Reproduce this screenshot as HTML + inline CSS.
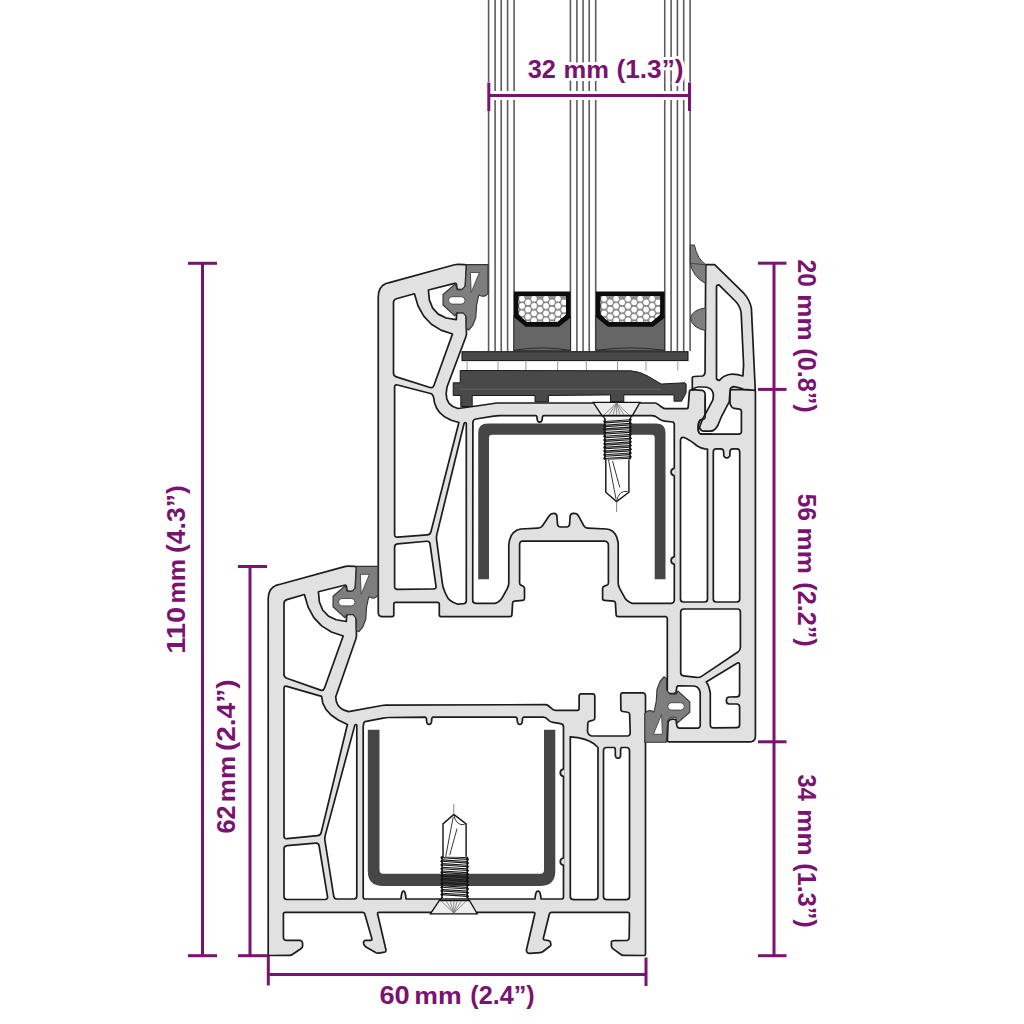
<!DOCTYPE html>
<html><head><meta charset="utf-8"><style>
html,body{margin:0;padding:0;background:#fff;width:1024px;height:1024px;overflow:hidden}
svg{display:block}
</style></head><body>
<svg width="1024" height="1024" viewBox="0 0 1024 1024">
<rect width="1024" height="1024" fill="#fff"/>
<g stroke="#5c5c5c" stroke-width="1.6">
<line x1="488.6" y1="0" x2="488.6" y2="351"/>
<line x1="495.1" y1="0" x2="495.1" y2="351"/>
<line x1="501.2" y1="0" x2="501.2" y2="351"/>
<line x1="507.6" y1="0" x2="507.6" y2="351"/>
<line x1="514.1" y1="0" x2="514.1" y2="351"/>
<line x1="570.4" y1="0" x2="570.4" y2="351"/>
<line x1="576.9" y1="0" x2="576.9" y2="351"/>
<line x1="583.05" y1="0" x2="583.05" y2="351"/>
<line x1="589.2" y1="0" x2="589.2" y2="351"/>
<line x1="595.7" y1="0" x2="595.7" y2="351"/>
<line x1="664.75" y1="0" x2="664.75" y2="351"/>
<line x1="671.1" y1="0" x2="671.1" y2="351"/>
<line x1="677.4" y1="0" x2="677.4" y2="351"/>
<line x1="683.7" y1="0" x2="683.7" y2="351"/>
<line x1="690.1" y1="0" x2="690.1" y2="351"/>
</g>
<g stroke="#fff" stroke-width="9" stroke-linecap="butt" opacity="1">
<line x1="489" y1="95.5" x2="689.5" y2="95.5"/>
<line x1="489" y1="82" x2="489" y2="111"/><line x1="689.5" y1="82" x2="689.5" y2="111"/>
</g>
<g stroke="#7a1270" stroke-width="3" stroke-linecap="butt">
<line x1="489" y1="95.5" x2="689.5" y2="95.5"/>
<line x1="488.8" y1="82.5" x2="488.8" y2="111"/><line x1="689.5" y1="82.5" x2="689.5" y2="111"/>
<line x1="202.5" y1="263.3" x2="202.5" y2="955.7"/>
<line x1="188" y1="263.3" x2="217" y2="263.3"/><line x1="188" y1="955.7" x2="217" y2="955.7"/>
<line x1="250" y1="566.5" x2="250" y2="955.7"/>
<line x1="238" y1="566.5" x2="267" y2="566.5"/><line x1="238" y1="955.7" x2="268" y2="955.7"/>
<line x1="268.3" y1="974.6" x2="646" y2="974.6"/>
<line x1="268.3" y1="955.7" x2="268.3" y2="985.5"/><line x1="646" y1="957.5" x2="646" y2="986"/>
<line x1="774" y1="263.2" x2="774" y2="955.7"/>
<line x1="758" y1="263.2" x2="786.5" y2="263.2"/>
<line x1="758" y1="389.4" x2="786.5" y2="389.4"/>
<line x1="758" y1="741.8" x2="786.5" y2="741.8"/>
<line x1="758" y1="955.7" x2="786.5" y2="955.7"/>
</g>
<g transform="translate(0 78)" font-family="Liberation Sans, sans-serif" font-weight="bold" fill="#fff" stroke="#fff" stroke-width="6" stroke-linejoin="round"><text x="527.79" y="0" textLength="28.13" lengthAdjust="spacingAndGlyphs" font-size="25">32</text><text x="563.48" y="0" textLength="45.43" lengthAdjust="spacingAndGlyphs" font-size="23">mm</text><text x="616.45" y="0" textLength="67.10" lengthAdjust="spacingAndGlyphs" font-size="25">(1.3”)</text></g>
<g transform="translate(0 1003.6)" font-family="Liberation Sans, sans-serif" font-weight="bold" fill="#fff" stroke="#fff" stroke-width="6" stroke-linejoin="round"><text x="379.41" y="0" textLength="30.27" lengthAdjust="spacingAndGlyphs" font-size="25">60</text><text x="414.28" y="0" textLength="47.37" lengthAdjust="spacingAndGlyphs" font-size="23">mm</text><text x="470.29" y="0" textLength="64.42" lengthAdjust="spacingAndGlyphs" font-size="25">(2.4”)</text></g>
<g transform="translate(185.2 0) rotate(-90)" font-family="Liberation Sans, sans-serif" font-weight="bold" fill="#fff" stroke="#fff" stroke-width="6" stroke-linejoin="round"><text x="-653.73" y="0" textLength="47.00" lengthAdjust="spacingAndGlyphs" font-size="25">110</text><text x="-603.47" y="0" textLength="44.46" lengthAdjust="spacingAndGlyphs" font-size="23">mm</text><text x="-553.06" y="0" textLength="67.82" lengthAdjust="spacingAndGlyphs" font-size="25">(4.3”)</text></g>
<g transform="translate(235.2 0) rotate(-90)" font-family="Liberation Sans, sans-serif" font-weight="bold" fill="#fff" stroke="#fff" stroke-width="6" stroke-linejoin="round"><text x="-833.62" y="0" textLength="28.24" lengthAdjust="spacingAndGlyphs" font-size="25">62</text><text x="-802.26" y="0" textLength="46.29" lengthAdjust="spacingAndGlyphs" font-size="23">mm</text><text x="-751.12" y="0" textLength="71.64" lengthAdjust="spacingAndGlyphs" font-size="25">(2.4”)</text></g>
<g transform="translate(797.6 0) rotate(90)" font-family="Liberation Sans, sans-serif" font-weight="bold" fill="#fff" stroke="#fff" stroke-width="6" stroke-linejoin="round"><text x="259.52" y="0" textLength="27.28" lengthAdjust="spacingAndGlyphs" font-size="25">20</text><text x="294.34" y="0" textLength="46.29" lengthAdjust="spacingAndGlyphs" font-size="23">mm</text><text x="348.29" y="0" textLength="64.32" lengthAdjust="spacingAndGlyphs" font-size="25">(0.8”)</text></g>
<g transform="translate(797.6 0) rotate(90)" font-family="Liberation Sans, sans-serif" font-weight="bold" fill="#fff" stroke="#fff" stroke-width="6" stroke-linejoin="round"><text x="493.72" y="0" textLength="27.17" lengthAdjust="spacingAndGlyphs" font-size="25">56</text><text x="527.53" y="0" textLength="46.40" lengthAdjust="spacingAndGlyphs" font-size="23">mm</text><text x="582.39" y="0" textLength="64.32" lengthAdjust="spacingAndGlyphs" font-size="25">(2.2”)</text></g>
<g transform="translate(797.6 0) rotate(90)" font-family="Liberation Sans, sans-serif" font-weight="bold" fill="#fff" stroke="#fff" stroke-width="6" stroke-linejoin="round"><text x="774.56" y="0" textLength="26.27" lengthAdjust="spacingAndGlyphs" font-size="25">34</text><text x="809.34" y="0" textLength="46.29" lengthAdjust="spacingAndGlyphs" font-size="23">mm</text><text x="863.29" y="0" textLength="64.32" lengthAdjust="spacingAndGlyphs" font-size="25">(1.3”)</text></g>
<g transform="translate(0 78)" font-family="Liberation Sans, sans-serif" font-weight="bold" fill="#7a1270" stroke="#7a1270" stroke-width="0" stroke-linejoin="round"><text x="527.79" y="0" textLength="28.13" lengthAdjust="spacingAndGlyphs" font-size="25">32</text><text x="563.48" y="0" textLength="45.43" lengthAdjust="spacingAndGlyphs" font-size="23">mm</text><text x="616.45" y="0" textLength="67.10" lengthAdjust="spacingAndGlyphs" font-size="25">(1.3”)</text></g>
<g transform="translate(0 1003.6)" font-family="Liberation Sans, sans-serif" font-weight="bold" fill="#7a1270" stroke="#7a1270" stroke-width="0" stroke-linejoin="round"><text x="379.41" y="0" textLength="30.27" lengthAdjust="spacingAndGlyphs" font-size="25">60</text><text x="414.28" y="0" textLength="47.37" lengthAdjust="spacingAndGlyphs" font-size="23">mm</text><text x="470.29" y="0" textLength="64.42" lengthAdjust="spacingAndGlyphs" font-size="25">(2.4”)</text></g>
<g transform="translate(185.2 0) rotate(-90)" font-family="Liberation Sans, sans-serif" font-weight="bold" fill="#7a1270" stroke="#7a1270" stroke-width="0" stroke-linejoin="round"><text x="-653.73" y="0" textLength="47.00" lengthAdjust="spacingAndGlyphs" font-size="25">110</text><text x="-603.47" y="0" textLength="44.46" lengthAdjust="spacingAndGlyphs" font-size="23">mm</text><text x="-553.06" y="0" textLength="67.82" lengthAdjust="spacingAndGlyphs" font-size="25">(4.3”)</text></g>
<g transform="translate(235.2 0) rotate(-90)" font-family="Liberation Sans, sans-serif" font-weight="bold" fill="#7a1270" stroke="#7a1270" stroke-width="0" stroke-linejoin="round"><text x="-833.62" y="0" textLength="28.24" lengthAdjust="spacingAndGlyphs" font-size="25">62</text><text x="-802.26" y="0" textLength="46.29" lengthAdjust="spacingAndGlyphs" font-size="23">mm</text><text x="-751.12" y="0" textLength="71.64" lengthAdjust="spacingAndGlyphs" font-size="25">(2.4”)</text></g>
<g transform="translate(797.6 0) rotate(90)" font-family="Liberation Sans, sans-serif" font-weight="bold" fill="#7a1270" stroke="#7a1270" stroke-width="0" stroke-linejoin="round"><text x="259.52" y="0" textLength="27.28" lengthAdjust="spacingAndGlyphs" font-size="25">20</text><text x="294.34" y="0" textLength="46.29" lengthAdjust="spacingAndGlyphs" font-size="23">mm</text><text x="348.29" y="0" textLength="64.32" lengthAdjust="spacingAndGlyphs" font-size="25">(0.8”)</text></g>
<g transform="translate(797.6 0) rotate(90)" font-family="Liberation Sans, sans-serif" font-weight="bold" fill="#7a1270" stroke="#7a1270" stroke-width="0" stroke-linejoin="round"><text x="493.72" y="0" textLength="27.17" lengthAdjust="spacingAndGlyphs" font-size="25">56</text><text x="527.53" y="0" textLength="46.40" lengthAdjust="spacingAndGlyphs" font-size="23">mm</text><text x="582.39" y="0" textLength="64.32" lengthAdjust="spacingAndGlyphs" font-size="25">(2.2”)</text></g>
<g transform="translate(797.6 0) rotate(90)" font-family="Liberation Sans, sans-serif" font-weight="bold" fill="#7a1270" stroke="#7a1270" stroke-width="0" stroke-linejoin="round"><text x="774.56" y="0" textLength="26.27" lengthAdjust="spacingAndGlyphs" font-size="25">34</text><text x="809.34" y="0" textLength="46.29" lengthAdjust="spacingAndGlyphs" font-size="23">mm</text><text x="863.29" y="0" textLength="64.32" lengthAdjust="spacingAndGlyphs" font-size="25">(1.3”)</text></g>
<g stroke="#1c1c1c" stroke-width="1.7" stroke-linejoin="round">
<path d="M270.00 955.48 Q268.20 955.50 268.20 953.70 L268.20 599.00 L268.68 594.25 L270.14 590.39 L272.56 587.43 L275.94 585.37 L280.30 584.20 L344.56 566.58 Q346.30 566.10 348.10 566.15 L354.70 566.35 Q356.50 566.40 356.40 568.20 L355.30 587.90 L354.58 589.16 L353.88 590.14 L353.18 590.84 L352.48 591.26 L351.80 591.40 L348.90 591.40 Q347.10 591.40 346.88 589.61 L346.52 586.59 Q346.30 584.80 344.55 585.24 L318.40 591.80 L319.39 601.95 L322.67 609.99 L328.25 615.93 L336.13 619.77 L346.30 621.50 L346.60 616.30 Q346.70 614.50 348.50 614.50 L353.00 614.50 L354.12 614.94 L354.98 615.64 L355.60 616.58 L355.98 617.76 L356.10 619.20 L356.46 635.20 Q356.50 637.00 355.91 638.70 L335.70 697.00 L336.31 701.42 L337.91 705.10 L340.49 708.02 L344.05 710.18 L348.60 711.60 L381.98 705.52 Q383.75 705.20 385.55 705.19 L545.20 704.61 Q547.00 704.60 548.37 705.77 L552.38 709.23 Q553.75 710.40 555.55 710.40 L577.30 710.40 Q579.10 710.40 579.10 708.60 L579.10 696.00 L579.22 695.21 L579.56 694.59 L580.14 694.15 L580.96 693.89 L582.00 693.80 L592.00 693.80 L593.01 693.91 L593.79 694.23 L594.35 694.77 L594.69 695.53 L594.80 696.50 L594.80 718.00 Q594.80 719.80 593.05 720.23 L589.65 721.07 Q587.90 721.50 587.82 723.30 L587.50 731.00 L587.88 732.80 L588.62 734.20 L589.72 735.20 L591.18 735.80 L593.00 736.00 L627.50 736.00 L628.47 735.72 L629.23 735.28 L629.77 734.68 L630.09 733.92 L630.20 733.00 L629.65 714.30 Q629.60 712.50 627.82 712.24 L622.72 711.50 Q622.00 711.40 621.46 710.91 L621.44 710.89 Q620.90 710.40 620.89 709.67 L620.70 695.00 L620.81 694.21 L621.15 693.59 L621.71 693.15 L622.49 692.89 L623.50 692.80 L642.00 692.80 L643.26 692.93 L644.24 693.31 L644.94 693.95 L645.36 694.85 L645.50 696.00 L645.50 953.70 Q645.50 955.50 643.70 955.48 L623.80 955.32 Q622.00 955.30 620.55 954.23 L612.85 948.57 Q611.40 947.50 611.40 945.70 L611.40 942.00 L611.52 941.53 L611.86 941.17 L612.44 940.91 L613.26 940.75 L614.30 940.70 L627.00 940.50 L627.79 940.20 L628.41 939.70 L628.85 939.00 L629.11 938.10 L629.20 937.00 L629.48 914.10 Q629.50 912.30 627.70 912.30 L551.60 912.30 Q549.80 912.30 549.37 914.05 L543.43 937.95 Q543.00 939.70 544.77 940.01 L548.80 940.70 L549.58 940.99 L550.18 941.61 L550.58 942.57 L550.78 943.87 L550.80 945.50 L543.42 951.29 Q542.00 952.40 540.21 952.54 L529.50 953.40 L528.38 953.14 L527.52 952.66 L526.90 951.98 L526.52 951.10 L526.40 950.00 L534.79 914.05 Q535.20 912.30 533.40 912.30 L379.00 912.30 Q377.20 912.30 377.61 914.05 L386.00 950.00 L385.88 950.86 L385.52 951.54 L384.92 952.02 L384.08 952.30 L383.00 952.40 L378.97 953.09 Q377.20 953.40 375.64 952.51 L366.00 947.00 L365.10 946.18 L364.40 945.32 L363.90 944.42 L363.60 943.48 L363.50 942.50 L363.72 941.71 L364.12 941.09 L364.72 940.65 L365.52 940.39 L366.50 940.30 L370.50 940.30 Q372.30 940.30 371.81 938.57 L364.79 914.03 Q364.30 912.30 362.50 912.30 L285.20 912.30 Q283.40 912.30 283.40 914.10 L283.40 937.00 L283.52 938.19 L283.90 939.11 L284.52 939.77 L285.38 940.17 L286.50 940.30 L300.00 940.30 L300.94 940.67 L301.66 941.23 L302.18 941.97 L302.50 942.89 L302.60 944.00 L302.60 945.79 Q302.60 947.50 301.19 948.47 L292.73 954.28 Q291.25 955.30 289.45 955.32 Z" fill="#e1e1e1"/>
<path d="M284.00 603.50 Q284.00 600.50 286.88 599.65 L304.40 594.50 L308.13 607.12 L313.87 617.58 L321.63 625.88 L331.41 632.02 L343.20 636.00 L324.41 688.28 Q323.40 691.10 320.57 690.10 L286.83 678.20 Q284.00 677.20 284.00 674.20 Z" fill="#fff"/>
<path d="M284.00 688.50 Q284.00 685.50 286.88 686.34 L321.60 696.40 L322.76 703.16 L325.92 709.34 L331.08 714.96 L338.24 720.02 L347.40 724.50 L321.21 832.48 Q320.50 835.40 317.51 835.69 L286.99 838.71 Q284.00 839.00 284.00 836.00 Z" fill="#fff"/>
<path d="M284.00 849.00 Q284.00 846.00 286.99 845.72 L315.61 843.08 Q318.60 842.80 319.09 845.76 L327.51 896.54 Q328.00 899.50 325.00 899.50 L287.00 899.50 Q284.00 899.50 284.00 896.50 Z" fill="#fff"/>
<path d="M354.77 725.35 Q355.00 724.50 355.88 724.50 L355.92 724.50 Q356.80 724.50 356.80 725.38 L356.80 896.00 Q356.80 899.00 353.80 899.00 L337.20 899.00 Q334.20 899.00 333.73 896.04 L324.97 840.96 Q324.50 838.00 325.28 835.10 Z" fill="#fff"/>
<path d="M363.20 727.00 L363.37 725.18 L363.63 723.74 L363.99 722.66 L364.45 721.94 L365.00 721.60 L383.16 718.07 Q386.10 717.50 389.10 717.48 L425.30 717.20 L425.73 717.49 L426.07 717.89 L426.31 718.39 L426.45 718.99 L426.50 719.70 L426.60 721.39 L426.92 722.71 L427.44 723.65 L428.16 724.21 L429.10 724.40 L430.04 724.21 L430.76 723.65 L431.28 722.71 L431.60 721.39 L431.70 719.70 L431.75 718.99 L431.89 718.39 L432.13 717.89 L432.47 717.49 L432.90 717.20 L516.00 717.20 L516.43 717.49 L516.77 717.89 L517.01 718.39 L517.15 718.99 L517.20 719.70 L517.30 721.39 L517.62 722.71 L518.14 723.65 L518.86 724.21 L519.80 724.40 L520.74 724.21 L521.46 723.65 L521.98 722.71 L522.30 721.39 L522.40 719.70 L522.45 718.99 L522.59 718.39 L522.83 717.89 L523.17 717.49 L523.60 717.20 L543.00 717.20 Q546.00 717.20 547.92 719.50 L548.08 719.70 Q550.00 722.00 552.97 722.44 L560.53 723.56 Q563.50 724.00 563.50 727.00 L563.50 897.00 L563.40 897.72 L563.10 898.28 L562.60 898.68 L561.90 898.92 L561.00 899.00 L541.00 899.00 L540.72 896.12 L540.28 893.88 L539.68 892.28 L538.92 891.32 L538.00 891.00 L537.08 891.32 L536.32 892.28 L535.72 893.88 L535.28 896.12 L535.00 899.00 L406.00 899.00 L405.74 896.12 L405.36 893.88 L404.86 892.28 L404.24 891.32 L403.50 891.00 L402.76 891.32 L402.14 892.28 L401.64 893.88 L401.26 896.12 L401.00 899.00 L365.50 899.00 L364.67 898.92 L364.03 898.68 L363.57 898.28 L363.29 897.72 L363.20 897.00 Z" fill="#fff"/>
<path d="M570.30 736.80 L577.71 737.61 L584.19 739.09 L589.73 741.23 L594.33 744.03 L598.00 747.50 L598.00 896.60 Q598.00 899.60 595.00 899.60 L573.30 899.60 Q570.30 899.60 570.30 896.60 Z" fill="#fff"/>
<path d="M603.50 750.50 Q603.50 747.50 606.50 747.50 L614.20 747.50 L614.60 747.76 L614.90 748.14 L615.12 748.64 L615.26 749.26 L615.30 750.00 L615.30 755.00 L615.47 756.15 L615.83 757.05 L616.37 757.69 L617.09 758.07 L618.00 758.20 L618.94 758.07 L619.66 757.69 L620.18 757.05 L620.50 756.15 L620.60 755.00 L620.60 750.00 L620.65 749.26 L620.79 748.64 L621.03 748.14 L621.37 747.76 L621.80 747.50 L626.50 747.50 Q629.50 747.50 629.50 750.50 L629.50 896.60 Q629.50 899.60 626.50 899.60 L606.50 899.60 Q603.50 899.60 603.50 896.60 Z" fill="#fff"/>
<path d="M378.25 297.00 L378.73 292.26 L380.18 288.42 L382.59 285.50 L385.96 283.50 L390.30 282.40 L454.56 264.73 Q456.30 264.25 458.10 264.31 L464.70 264.54 Q466.50 264.60 466.40 266.40 L465.30 286.10 L464.58 287.36 L463.88 288.34 L463.18 289.04 L462.48 289.46 L461.80 289.60 L458.90 289.60 Q457.10 289.60 456.88 287.81 L456.52 284.79 Q456.30 283.00 454.55 283.44 L428.40 290.00 L429.39 300.15 L432.67 308.19 L438.25 314.13 L446.13 317.97 L456.30 319.70 L456.60 314.50 Q456.70 312.70 458.50 312.70 L463.00 312.70 L464.12 313.14 L464.98 313.84 L465.60 314.78 L465.98 315.96 L466.10 317.40 L466.46 333.20 Q466.50 335.00 465.87 336.69 L447.00 387.00 L446.16 393.62 L446.84 399.08 L449.04 403.38 L452.76 406.52 L458.00 408.50 L478.22 405.74 Q480.00 405.50 481.78 405.23 L494.92 403.27 Q496.70 403.00 498.50 403.00 L654.40 403.00 Q656.20 403.00 657.65 404.07 L662.35 407.53 Q663.80 408.60 665.60 408.60 L686.30 408.60 Q688.10 408.60 688.24 406.81 L689.40 391.60 L689.57 390.92 L689.91 390.38 L690.43 390.00 L691.13 389.78 L692.00 389.70 L702.00 390.30 L703.15 390.73 L704.05 391.45 L704.69 392.47 L705.07 393.79 L705.20 395.40 L705.20 416.40 Q705.20 418.20 703.51 418.82 L700.00 420.10 L699.29 421.73 L698.75 423.51 L698.39 425.43 L698.21 427.49 L698.20 429.70 L698.45 431.28 L698.95 432.52 L699.71 433.40 L700.73 433.92 L702.00 434.10 L739.00 434.10 L739.86 433.94 L740.54 433.56 L741.02 432.94 L741.30 432.08 L741.40 431.00 L741.40 411.20 Q741.40 409.40 739.62 409.14 L734.28 408.36 Q732.50 408.10 731.51 406.60 L730.99 405.80 Q730.00 404.30 730.00 402.50 L730.00 391.00 L730.14 390.53 L730.40 390.17 L730.78 389.91 L731.28 389.75 L731.90 389.70 L753.60 389.70 Q755.40 389.70 755.40 391.50 L755.40 736.00 L755.18 738.09 L754.54 739.71 L753.46 740.87 L751.94 741.57 L750.00 741.80 L669.10 741.80 Q667.30 741.80 667.37 740.00 L668.10 721.60 L669.42 720.22 L670.88 719.38 L672.46 719.06 L674.16 719.26 L676.00 720.00 L676.70 724.70 L676.93 725.96 L677.37 726.94 L678.03 727.64 L678.91 728.06 L680.00 728.20 L697.80 728.20 L698.66 728.00 L699.34 727.54 L699.82 726.84 L700.10 725.90 L700.20 724.70 L700.20 692.70 L699.53 690.29 L698.47 688.41 L697.03 687.07 L695.21 686.27 L693.00 686.00 L679.00 685.80 L678.17 685.89 L677.53 686.15 L677.07 686.59 L676.79 687.21 L676.70 688.00 L676.00 692.70 L674.37 693.28 L672.69 693.56 L670.95 693.56 L669.15 693.28 L667.30 692.70 L667.30 619.00 L667.21 618.14 L666.93 617.46 L666.47 616.98 L665.83 616.70 L665.00 616.60 L618.05 616.60 Q616.25 616.60 616.14 614.80 L615.41 603.10 Q615.30 601.30 613.51 601.16 L604.39 600.44 Q602.60 600.30 602.60 598.50 L602.60 588.50 Q602.60 586.70 604.30 586.11 L606.70 585.29 Q608.40 584.70 608.40 582.90 L608.40 545.70 L608.24 544.08 L607.78 542.82 L607.00 541.92 L605.90 541.38 L604.50 541.20 L522.50 541.20 L521.46 541.34 L520.64 541.76 L520.06 542.46 L519.72 543.44 L519.60 544.70 L519.60 582.90 Q519.60 584.70 521.27 585.38 L522.83 586.02 Q524.50 586.70 524.50 588.50 L524.50 598.50 Q524.50 600.30 522.71 600.45 L514.49 601.15 Q512.70 601.30 512.59 603.10 L511.91 614.80 Q511.80 616.60 510.00 616.60 L441.10 616.60 Q439.30 616.60 439.30 614.80 L439.30 604.10 Q439.30 602.30 437.50 602.30 L395.60 602.30 Q393.80 602.30 393.80 604.10 L393.80 614.80 Q393.80 616.60 392.00 616.60 L382.00 616.60 L380.65 616.42 L379.60 615.86 L378.85 614.94 L378.40 613.66 L378.25 612.00 Z" fill="#e1e1e1"/>
<path d="M396.36 376.90 Q393.50 376.00 393.50 373.00 L393.50 302.50 Q393.50 299.50 396.39 298.71 L414.40 293.80 L418.10 306.03 L423.76 316.17 L431.38 324.21 L440.96 330.15 L452.50 334.00 L433.92 385.58 Q432.90 388.40 430.04 387.50 Z" fill="#fff"/>
<path d="M394.60 387.30 Q394.60 384.30 397.51 385.05 L431.50 393.80 L432.41 394.83 L433.15 396.17 L433.71 397.81 L434.09 399.75 L434.30 402.00 L436.47 407.94 L440.01 412.96 L444.93 417.06 L451.23 420.24 L458.90 422.50 L430.94 531.79 Q430.20 534.70 427.21 534.93 L397.59 537.17 Q394.60 537.40 394.60 534.40 Z" fill="#fff"/>
<path d="M394.60 547.20 Q394.60 544.20 397.59 543.93 L426.61 541.27 Q429.60 541.00 430.02 543.97 L435.98 586.03 Q436.40 589.00 433.40 589.02 L397.60 589.28 Q394.60 589.30 394.60 586.30 Z" fill="#fff"/>
<path d="M464.07 423.45 Q464.30 422.50 465.28 422.50 L465.32 422.50 Q466.30 422.50 466.30 423.48 L466.30 600.50 Q466.30 603.50 463.31 603.75 L457.90 604.20 L455.30 603.26 L453.02 602.20 L451.06 601.02 L449.42 599.72 L448.10 598.30 L446.61 595.59 Q445.20 593.00 444.17 590.24 L443.85 589.41 Q442.80 586.60 442.40 583.63 L436.60 539.97 Q436.20 537.00 436.92 534.09 Z" fill="#fff"/>
<path d="M472.90 422.50 Q472.90 419.50 475.86 419.01 L493.74 416.09 Q496.70 415.60 499.70 415.60 L535.90 415.60 L536.33 415.89 L536.67 416.29 L536.91 416.79 L537.05 417.39 L537.10 418.10 L537.20 419.54 L537.52 420.66 L538.04 421.46 L538.76 421.94 L539.70 422.10 L540.64 421.94 L541.36 421.46 L541.88 420.66 L542.20 419.54 L542.30 418.10 L542.35 417.39 L542.49 416.79 L542.73 416.29 L543.07 415.89 L543.50 415.60 L652.00 415.70 Q655.00 415.70 657.35 417.57 L659.05 418.93 Q661.40 420.80 664.38 421.11 L672.90 422.00 L673.40 422.44 L673.80 422.96 L674.08 423.56 L674.24 424.24 L674.30 425.00 L674.30 600.00 L674.07 601.19 L673.63 602.11 L672.97 602.77 L672.09 603.17 L671.00 603.30 L631.90 603.30 L629.70 602.29 L627.80 601.09 L626.22 599.71 L624.96 598.15 L624.00 596.40 L619.63 588.34 Q618.20 585.70 618.20 582.70 L618.20 542.70 L617.03 537.93 L615.27 534.17 L612.93 531.43 L610.01 529.71 L606.50 529.00 L588.00 528.14 Q585.00 528.00 583.59 525.35 L578.61 516.05 Q577.20 513.40 574.20 513.40 L573.30 513.40 Q570.30 513.40 570.10 516.39 L569.60 524.01 Q569.40 527.00 566.40 527.00 L560.70 527.00 Q557.70 527.00 557.48 524.01 L556.91 516.27 Q556.70 513.40 553.82 513.40 L553.68 513.40 Q550.80 513.40 549.20 515.79 L542.67 525.51 Q541.00 528.00 538.00 528.15 L520.50 529.00 L516.67 530.27 L513.59 532.47 L511.25 535.61 L509.65 539.69 L508.80 544.70 L508.80 582.70 Q508.80 585.70 507.37 588.34 L503.00 596.40 L501.73 598.47 L500.31 600.19 L498.75 601.57 L497.05 602.61 L495.20 603.30 L475.70 603.30 Q472.70 603.30 472.70 600.30 Z" fill="#fff"/>
<path d="M680.50 440.00 L680.80 438.88 L681.30 438.06 L682.00 437.56 L682.90 437.38 L684.00 437.50 L686.40 438.60 L688.80 439.90 L691.20 441.40 L693.60 443.10 L696.00 445.00 L697.74 446.29 L699.76 447.35 L702.06 448.19 L704.64 448.81 L707.50 449.20 L707.50 599.00 Q707.50 602.00 704.50 602.00 L683.50 602.00 Q680.50 602.00 680.50 599.00 Z" fill="#fff"/>
<path d="M713.30 451.80 Q713.30 448.80 716.30 448.80 L720.60 448.80 Q723.60 448.80 723.68 451.80 L723.80 456.00 L725.00 457.28 L726.20 457.92 L727.40 457.92 L728.60 457.28 L729.80 456.00 L729.92 451.80 Q730.00 448.80 733.00 448.80 L736.70 448.80 Q739.70 448.80 739.70 451.80 L739.70 599.00 Q739.70 602.00 736.70 602.00 L716.30 602.00 Q713.30 602.00 713.30 599.00 Z" fill="#fff"/>
<path d="M680.70 612.00 Q680.70 609.00 683.70 609.00 L737.40 609.00 Q740.40 609.00 740.40 612.00 L740.40 647.30 Q740.40 650.30 737.91 651.97 L701.89 676.13 Q699.40 677.80 696.42 677.43 L683.68 675.87 Q680.70 675.50 680.70 672.50 Z" fill="#fff"/>
<path d="M706.20 682.00 L737.03 663.35 Q739.60 661.80 739.60 664.80 L739.60 693.90 Q739.60 696.90 736.60 696.92 L729.40 696.98 Q726.40 697.00 726.40 700.00 L726.40 701.00 Q726.40 704.00 729.40 704.00 L736.60 704.00 Q739.60 704.00 739.60 707.00 L739.60 724.70 Q739.60 727.70 736.60 727.71 L713.30 727.79 Q710.30 727.80 710.30 724.80 L710.30 693.40 L709.72 690.26 L709.02 687.54 L708.20 685.26 L707.26 683.42 L706.20 682.00 Z" fill="#fff"/>
<path d="M 675.1999999999999 468.6 Q 671.0999999999999 469.2 671.3 472.0 Q 671.0999999999999 474.8 675.1999999999999 475.4 Z" fill="#e1e1e1" stroke="none"/>
<path d="M 674.3 468.4 Q 670.9 469.0 671.0999999999999 472.0 Q 670.9 475.0 674.3 475.6" fill="none"/>
<path d="M 675.1999999999999 557.1 Q 671.0999999999999 557.7 671.3 560.5 Q 671.0999999999999 563.3 675.1999999999999 563.9 Z" fill="#e1e1e1" stroke="none"/>
<path d="M 674.3 556.9 Q 670.9 557.5 671.0999999999999 560.5 Q 670.9 563.5 674.3 564.1" fill="none"/>
<path d="M 564.4 769.3000000000001 Q 560.3 769.9000000000001 560.5 772.7 Q 560.3 775.5 564.4 776.1 Z" fill="#e1e1e1" stroke="none"/>
<path d="M 563.5 769.1 Q 560.1 769.7 560.3 772.7 Q 560.1 775.7 563.5 776.3000000000001" fill="none"/>
<path d="M 564.4 858.2 Q 560.3 858.8000000000001 560.5 861.6 Q 560.3 864.4 564.4 865.0 Z" fill="#e1e1e1" stroke="none"/>
<path d="M 563.5 858.0 Q 560.1 858.6 560.3 861.6 Q 560.1 864.6 563.5 865.2" fill="none"/>
</g>
<path d="M 478.2 579.3 L 478.2 433 Q 478.2 423.6 488 423.6 L 656 423.6 Q 665.5 423.6 665.5 433 L 665.5 579.3 L 654.7 579.3 L 654.7 438 Q 654.7 434.8 651.7 434.8 L 492 434.8 Q 489 434.8 489 438 L 489 579.3 Z" fill="#464646"/>
<path d="M 367.8 729.8 L 379.5 729.8 L 379.5 870 Q 379.5 873.7 383 873.7 L 540.5 873.7 Q 544 873.7 544 870 L 544 729.8 L 555.3 729.8 L 555.3 871 Q 555.3 886 540 886 L 383 886 Q 367.8 886 367.8 871 Z" fill="#464646"/>
<g stroke="#1c1c1c" stroke-width="1.7" stroke-linejoin="round"><path d="M 705.1 365 L 705.7 264.6 L 714.6 264.6 L 743.8 293.2 Q 750 300 751.4 308.4 L 755.3 390.3 L 743.6 389.4
Q 736 386.5 733.4 386.6 Q 730 387.5 730 391 L 729.3 401.6 L 721.6 416.3 L 718 425 Q 715 431 710.6 431.2 L 703.3 431.2
Q 699.2 430 699.7 426.5 L 702.6 419.2 L 712.8 400.2 Q 715 392 709.9 388.4 Q 707 387 703 387 L 698.2 387
Q 693 388 692.3 390.3 L 692.3 377.5 Q 692.5 376.5 694 376.5 L 702.6 376 Q 705 375 705.1 372 Z" fill="#e1e1e1"/><path d="M 716.5 287 Q 716.5 284.9 719 284.9 L 736.2 302 Q 740.5 307 741.2 313.5 L 743.6 365 L 742.9 376 Q 735 373.5 729 374.5 Q 723 376 719.4 380.4 Q 716.5 380 716.5 378.2 Z" fill="#fff"/></g>
<path d="M 705.2 396 L 705.2 417.5 Q 705 419 703 419.6 L 700.5 420.3 Q 698.2 421.5 698.2 425 L 698.2 430 Q 698.5 434.1 702 434.1 L 712 434.1" fill="none" stroke="#1c1c1c" stroke-width="1.5"/>
<g id="g1"><g>
<path d="M 466.5 264.6 L 488 264.6 L 488 293.2 Q 486 296.3 482.9 296.3 Q 480 296 479.4 294.9 L 478.6 295.7 L 476.6 305.1 L 475.8 317.6 L 472.7 325.4 L 468.8 330 L 466.3 328.3 L 466.3 317 L 463 312.7 L 456.7 312.7 L 454.75 315.8 L 443 304.9 L 443 294.5 L 455.5 283.8 L 457.1 289.6 L 461.8 289.6 L 465.3 286.1 Z" fill="#7e7e7e" stroke="#333" stroke-width="1.1"/>
<path d="M 470.4 272.5 L 479.4 272.5 L 471.2 292.4 Z" fill="#fff" stroke="#444" stroke-width="0.9"/>
<rect x="448.5" y="296.7" width="16.5" height="7.4" rx="3.7" fill="#fff" stroke="#444" stroke-width="0.9"/>
</g></g>
<g transform="translate(-110 301.8)"><g>
<path d="M 466.5 264.6 L 488 264.6 L 488 293.2 Q 486 296.3 482.9 296.3 Q 480 296 479.4 294.9 L 478.6 295.7 L 476.6 305.1 L 475.8 317.6 L 472.7 325.4 L 468.8 330 L 466.3 328.3 L 466.3 317 L 463 312.7 L 456.7 312.7 L 454.75 315.8 L 443 304.9 L 443 294.5 L 455.5 283.8 L 457.1 289.6 L 461.8 289.6 L 465.3 286.1 Z" fill="#7e7e7e" stroke="#333" stroke-width="1.1"/>
<path d="M 470.4 272.5 L 479.4 272.5 L 471.2 292.4 Z" fill="#fff" stroke="#444" stroke-width="0.9"/>
<rect x="448.5" y="296.7" width="16.5" height="7.4" rx="3.7" fill="#fff" stroke="#444" stroke-width="0.9"/>
</g></g>
<g transform="rotate(180 566.4 503.4)"><g>
<path d="M 466.5 264.6 L 488 264.6 L 488 293.2 Q 486 296.3 482.9 296.3 Q 480 296 479.4 294.9 L 478.6 295.7 L 476.6 305.1 L 475.8 317.6 L 472.7 325.4 L 468.8 330 L 466.3 328.3 L 466.3 317 L 463 312.7 L 456.7 312.7 L 454.75 315.8 L 443 304.9 L 443 294.5 L 455.5 283.8 L 457.1 289.6 L 461.8 289.6 L 465.3 286.1 Z" fill="#7e7e7e" stroke="#333" stroke-width="1.1"/>
<path d="M 470.4 272.5 L 479.4 272.5 L 471.2 292.4 Z" fill="#fff" stroke="#444" stroke-width="0.9"/>
<rect x="448.5" y="296.7" width="16.5" height="7.4" rx="3.7" fill="#fff" stroke="#444" stroke-width="0.9"/>
</g></g>
<path d="M 690.3 245 L 694.4 245 Q 697.5 259.5 705.7 264.6 L 705.7 283.5 Q 693 277 690.3 263.5 Z" fill="#7e7e7e" stroke="#333" stroke-width="1"/>
<path d="M 690.5 263.5 Q 698 263.8 705.5 264.8" fill="none" stroke="#333" stroke-width="0.8"/>
<path d="M 705.7 307.8 Q 692 310 690.5 318 Q 692 328 705.7 330.6 Z" fill="#7e7e7e" stroke="#333" stroke-width="1"/>
<rect x="513.8" y="316" width="56.7" height="34.6" fill="#666" stroke="#222" stroke-width="0.8"/>
<path d="M 513.8 350.3 Q 542.1 345.5 570.5 350.3" fill="none" stroke="#2a2a2a" stroke-width="1"/>
<path d="M 513.8 291.5 L 570.5 291.5 L 570.5 317.8 L 558.9 326.7 L 525.7 326.7 L 513.8 317.1 Z" fill="#0c0c0c"/>
<path d="M 518.5 296 L 566.0 296 L 566.0 314.4 L 557.2 322 L 527.0 322 L 518.5 314.4 Z" fill="#8c8c8c"/>
<clipPath id="hc1"><path d="M 518.5 296 L 566.0 296 L 566.0 314.4 L 557.2 322 L 527.0 322 L 518.5 314.4 Z"/></clipPath>
<g clip-path="url(#hc1)" fill="#fff">
<circle cx="510.0" cy="298.7" r="2.8"/>
<circle cx="522.0" cy="298.7" r="2.8"/>
<circle cx="534.0" cy="298.7" r="2.8"/>
<circle cx="546.0" cy="298.7" r="2.8"/>
<circle cx="558.0" cy="298.7" r="2.8"/>
<circle cx="570.0" cy="298.7" r="2.8"/>
<circle cx="582.0" cy="298.7" r="2.8"/>
<circle cx="516.0" cy="302.3" r="2.8"/>
<circle cx="528.0" cy="302.3" r="2.8"/>
<circle cx="540.0" cy="302.3" r="2.8"/>
<circle cx="552.0" cy="302.3" r="2.8"/>
<circle cx="564.0" cy="302.3" r="2.8"/>
<circle cx="576.0" cy="302.3" r="2.8"/>
<circle cx="588.0" cy="302.3" r="2.8"/>
<circle cx="510.0" cy="305.9" r="2.8"/>
<circle cx="522.0" cy="305.9" r="2.8"/>
<circle cx="534.0" cy="305.9" r="2.8"/>
<circle cx="546.0" cy="305.9" r="2.8"/>
<circle cx="558.0" cy="305.9" r="2.8"/>
<circle cx="570.0" cy="305.9" r="2.8"/>
<circle cx="582.0" cy="305.9" r="2.8"/>
<circle cx="516.0" cy="309.6" r="2.8"/>
<circle cx="528.0" cy="309.6" r="2.8"/>
<circle cx="540.0" cy="309.6" r="2.8"/>
<circle cx="552.0" cy="309.6" r="2.8"/>
<circle cx="564.0" cy="309.6" r="2.8"/>
<circle cx="576.0" cy="309.6" r="2.8"/>
<circle cx="588.0" cy="309.6" r="2.8"/>
<circle cx="510.0" cy="313.2" r="2.8"/>
<circle cx="522.0" cy="313.2" r="2.8"/>
<circle cx="534.0" cy="313.2" r="2.8"/>
<circle cx="546.0" cy="313.2" r="2.8"/>
<circle cx="558.0" cy="313.2" r="2.8"/>
<circle cx="570.0" cy="313.2" r="2.8"/>
<circle cx="582.0" cy="313.2" r="2.8"/>
<circle cx="516.0" cy="316.8" r="2.8"/>
<circle cx="528.0" cy="316.8" r="2.8"/>
<circle cx="540.0" cy="316.8" r="2.8"/>
<circle cx="552.0" cy="316.8" r="2.8"/>
<circle cx="564.0" cy="316.8" r="2.8"/>
<circle cx="576.0" cy="316.8" r="2.8"/>
<circle cx="588.0" cy="316.8" r="2.8"/>
<circle cx="510.0" cy="320.4" r="2.8"/>
<circle cx="522.0" cy="320.4" r="2.8"/>
<circle cx="534.0" cy="320.4" r="2.8"/>
<circle cx="546.0" cy="320.4" r="2.8"/>
<circle cx="558.0" cy="320.4" r="2.8"/>
<circle cx="570.0" cy="320.4" r="2.8"/>
<circle cx="582.0" cy="320.4" r="2.8"/>
<circle cx="516.0" cy="324.0" r="2.8"/>
<circle cx="528.0" cy="324.0" r="2.8"/>
<circle cx="540.0" cy="324.0" r="2.8"/>
<circle cx="552.0" cy="324.0" r="2.8"/>
<circle cx="564.0" cy="324.0" r="2.8"/>
<circle cx="576.0" cy="324.0" r="2.8"/>
<circle cx="588.0" cy="324.0" r="2.8"/>
<circle cx="510.0" cy="327.7" r="2.8"/>
<circle cx="522.0" cy="327.7" r="2.8"/>
<circle cx="534.0" cy="327.7" r="2.8"/>
<circle cx="546.0" cy="327.7" r="2.8"/>
<circle cx="558.0" cy="327.7" r="2.8"/>
<circle cx="570.0" cy="327.7" r="2.8"/>
<circle cx="582.0" cy="327.7" r="2.8"/>
</g>
<rect x="595.9" y="316" width="68.7" height="34.6" fill="#666" stroke="#222" stroke-width="0.8"/>
<path d="M 595.9 350.3 Q 630.2 345.5 664.6 350.3" fill="none" stroke="#2a2a2a" stroke-width="1"/>
<path d="M 595.9 291.5 L 664.6 291.5 L 664.6 317.8 L 653.0 326.7 L 607.8 326.7 L 595.9 317.1 Z" fill="#0c0c0c"/>
<path d="M 600.6 296 L 660.1 296 L 660.1 314.4 L 651.3 322 L 609.1 322 L 600.6 314.4 Z" fill="#8c8c8c"/>
<clipPath id="hc2"><path d="M 600.6 296 L 660.1 296 L 660.1 314.4 L 651.3 322 L 609.1 322 L 600.6 314.4 Z"/></clipPath>
<g clip-path="url(#hc2)" fill="#fff">
<circle cx="592.1" cy="298.7" r="2.8"/>
<circle cx="604.1" cy="298.7" r="2.8"/>
<circle cx="616.1" cy="298.7" r="2.8"/>
<circle cx="628.1" cy="298.7" r="2.8"/>
<circle cx="640.1" cy="298.7" r="2.8"/>
<circle cx="652.1" cy="298.7" r="2.8"/>
<circle cx="664.1" cy="298.7" r="2.8"/>
<circle cx="676.1" cy="298.7" r="2.8"/>
<circle cx="598.1" cy="302.3" r="2.8"/>
<circle cx="610.1" cy="302.3" r="2.8"/>
<circle cx="622.1" cy="302.3" r="2.8"/>
<circle cx="634.1" cy="302.3" r="2.8"/>
<circle cx="646.1" cy="302.3" r="2.8"/>
<circle cx="658.1" cy="302.3" r="2.8"/>
<circle cx="670.1" cy="302.3" r="2.8"/>
<circle cx="682.1" cy="302.3" r="2.8"/>
<circle cx="592.1" cy="305.9" r="2.8"/>
<circle cx="604.1" cy="305.9" r="2.8"/>
<circle cx="616.1" cy="305.9" r="2.8"/>
<circle cx="628.1" cy="305.9" r="2.8"/>
<circle cx="640.1" cy="305.9" r="2.8"/>
<circle cx="652.1" cy="305.9" r="2.8"/>
<circle cx="664.1" cy="305.9" r="2.8"/>
<circle cx="676.1" cy="305.9" r="2.8"/>
<circle cx="598.1" cy="309.6" r="2.8"/>
<circle cx="610.1" cy="309.6" r="2.8"/>
<circle cx="622.1" cy="309.6" r="2.8"/>
<circle cx="634.1" cy="309.6" r="2.8"/>
<circle cx="646.1" cy="309.6" r="2.8"/>
<circle cx="658.1" cy="309.6" r="2.8"/>
<circle cx="670.1" cy="309.6" r="2.8"/>
<circle cx="682.1" cy="309.6" r="2.8"/>
<circle cx="592.1" cy="313.2" r="2.8"/>
<circle cx="604.1" cy="313.2" r="2.8"/>
<circle cx="616.1" cy="313.2" r="2.8"/>
<circle cx="628.1" cy="313.2" r="2.8"/>
<circle cx="640.1" cy="313.2" r="2.8"/>
<circle cx="652.1" cy="313.2" r="2.8"/>
<circle cx="664.1" cy="313.2" r="2.8"/>
<circle cx="676.1" cy="313.2" r="2.8"/>
<circle cx="598.1" cy="316.8" r="2.8"/>
<circle cx="610.1" cy="316.8" r="2.8"/>
<circle cx="622.1" cy="316.8" r="2.8"/>
<circle cx="634.1" cy="316.8" r="2.8"/>
<circle cx="646.1" cy="316.8" r="2.8"/>
<circle cx="658.1" cy="316.8" r="2.8"/>
<circle cx="670.1" cy="316.8" r="2.8"/>
<circle cx="682.1" cy="316.8" r="2.8"/>
<circle cx="592.1" cy="320.4" r="2.8"/>
<circle cx="604.1" cy="320.4" r="2.8"/>
<circle cx="616.1" cy="320.4" r="2.8"/>
<circle cx="628.1" cy="320.4" r="2.8"/>
<circle cx="640.1" cy="320.4" r="2.8"/>
<circle cx="652.1" cy="320.4" r="2.8"/>
<circle cx="664.1" cy="320.4" r="2.8"/>
<circle cx="676.1" cy="320.4" r="2.8"/>
<circle cx="598.1" cy="324.0" r="2.8"/>
<circle cx="610.1" cy="324.0" r="2.8"/>
<circle cx="622.1" cy="324.0" r="2.8"/>
<circle cx="634.1" cy="324.0" r="2.8"/>
<circle cx="646.1" cy="324.0" r="2.8"/>
<circle cx="658.1" cy="324.0" r="2.8"/>
<circle cx="670.1" cy="324.0" r="2.8"/>
<circle cx="682.1" cy="324.0" r="2.8"/>
<circle cx="592.1" cy="327.7" r="2.8"/>
<circle cx="604.1" cy="327.7" r="2.8"/>
<circle cx="616.1" cy="327.7" r="2.8"/>
<circle cx="628.1" cy="327.7" r="2.8"/>
<circle cx="640.1" cy="327.7" r="2.8"/>
<circle cx="652.1" cy="327.7" r="2.8"/>
<circle cx="664.1" cy="327.7" r="2.8"/>
<circle cx="676.1" cy="327.7" r="2.8"/>
</g>
<rect x="462" y="351.7" width="226" height="8.9" fill="#4a4a4a" stroke="#111" stroke-width="1"/>
<g stroke="#9a9a9a" stroke-width="1"><line x1="467.1" y1="360.6" x2="467.1" y2="370.6"/><line x1="498" y1="360.6" x2="498" y2="370.6"/><line x1="525.9" y1="360.6" x2="525.9" y2="370.6"/><line x1="557.7" y1="360.6" x2="557.7" y2="370.6"/><line x1="586.3" y1="360.6" x2="586.3" y2="370.6"/><line x1="617.5" y1="360.6" x2="617.5" y2="370.6"/><line x1="646" y1="360.6" x2="646" y2="370.6"/><line x1="677.8" y1="360.6" x2="677.8" y2="370.6"/></g>
<path d="M 460.2 370.5 L 630.8 370.8 Q 640 371.5 648.6 376.5 L 661.2 384 L 685 382.8 Q 686.5 383.5 686.2 386 L 686 393
L 681.6 401.2 L 674 401.2 L 674 394.9 L 623.8 394.9 L 623.8 401.9 L 610.5 401.9 L 610.5 394.9 L 548.4 395.5 L 548.4 401.9
L 535 401.9 L 535 395.5 L 472.2 395.5 L 472.2 406.5 L 460.8 406.5 L 460.8 395.5 L 453.2 395.5 L 453.2 382.8 L 460.2 382.8 Z" fill="#494949" stroke="#1a1a1a" stroke-width="1"/>
<line x1="460" y1="389.2" x2="661" y2="389.2" stroke="#6a6a6a" stroke-width="0.8"/>
<g><path d="M 593.2 402.3 L 640 402.3 L 632.4 415.5 L 602 415.5 Z" fill="#ededed" stroke="#111" stroke-width="1.3"/>
<g stroke="#777" stroke-width="0.8"><line x1="616.6" y1="403" x2="604" y2="415"/><line x1="616.6" y1="403" x2="609" y2="415"/><line x1="616.6" y1="403" x2="613" y2="415"/><line x1="616.6" y1="403" x2="616.6" y2="415"/><line x1="616.6" y1="403" x2="620" y2="415"/><line x1="616.6" y1="403" x2="624" y2="415"/><line x1="616.6" y1="403" x2="629" y2="415"/></g>
<path d="M 602 415.5 Q 604 417 604.9 419 M 632.4 415.5 Q 630.5 417 630.1 419" fill="none" stroke="#111" stroke-width="1.2"/>
<rect x="604.9" y="417.5" width="25.2" height="42" fill="#f4f4f4"/>
<path d="M 604.9 418 L 604.9 459.4 M 630.1 418 L 630.1 459.4" stroke="#111" stroke-width="1.5"/>
<path d="M 604.5 421.5 L 630.5 419.7 M 605 422.9 L 630 421.3 M 604.5 425.2 L 630.5 423.4 M 605 426.6 L 630 425.0 M 604.5 428.9 L 630.5 427.1 M 605 430.3 L 630 428.7 M 604.5 432.6 L 630.5 430.8 M 605 434.0 L 630 432.4 M 604.5 436.3 L 630.5 434.5 M 605 437.7 L 630 436.1 M 604.5 440.0 L 630.5 438.2 M 605 441.4 L 630 439.8 M 604.5 443.7 L 630.5 441.9 M 605 445.1 L 630 443.5 M 604.5 447.4 L 630.5 445.6 M 605 448.8 L 630 447.2 M 604.5 451.1 L 630.5 449.3 M 605 452.5 L 630 450.9 M 604.5 454.8 L 630.5 453.0 M 605 456.2 L 630 454.6 M 604.5 458.5 L 630.5 456.7 M 605 459.9 L 630 458.3" stroke="#1a1a1a" stroke-width="1.15" fill="none"/>
<g fill="#111"><circle cx="604.6" cy="421.5" r="1.3"/><circle cx="630.4" cy="419.7" r="1.3"/><circle cx="604.6" cy="425.2" r="1.3"/><circle cx="630.4" cy="423.4" r="1.3"/><circle cx="604.6" cy="428.9" r="1.3"/><circle cx="630.4" cy="427.1" r="1.3"/><circle cx="604.6" cy="432.6" r="1.3"/><circle cx="630.4" cy="430.8" r="1.3"/><circle cx="604.6" cy="436.3" r="1.3"/><circle cx="630.4" cy="434.5" r="1.3"/><circle cx="604.6" cy="440.0" r="1.3"/><circle cx="630.4" cy="438.2" r="1.3"/><circle cx="604.6" cy="443.7" r="1.3"/><circle cx="630.4" cy="441.9" r="1.3"/><circle cx="604.6" cy="447.4" r="1.3"/><circle cx="630.4" cy="445.6" r="1.3"/><circle cx="604.6" cy="451.1" r="1.3"/><circle cx="630.4" cy="449.3" r="1.3"/><circle cx="604.6" cy="454.8" r="1.3"/><circle cx="630.4" cy="453.0" r="1.3"/><circle cx="604.6" cy="458.5" r="1.3"/><circle cx="630.4" cy="456.7" r="1.3"/></g>
<path d="M 605.8 459.4 L 605.8 492.2 L 616.6 501.6 L 628.9 492.2 L 628.9 459.4" fill="#fff" stroke="#111" stroke-width="1.4"/>
<path d="M 608.5 459.5 L 616 499 M 612.5 461 L 619.8 487.5 M 616.6 501 Q 619 490 627.5 491.5" fill="none" stroke="#222" stroke-width="0.9"/>
<line x1="616.6" y1="501.6" x2="616.6" y2="512" stroke="#777" stroke-width="0.9"/></g>
<g transform="translate(-162.8 1316.1) scale(1 -1)"><path d="M 593.2 402.3 L 640 402.3 L 632.4 415.5 L 602 415.5 Z" fill="#ededed" stroke="#111" stroke-width="1.3"/>
<g stroke="#777" stroke-width="0.8"><line x1="616.6" y1="403" x2="604" y2="415"/><line x1="616.6" y1="403" x2="609" y2="415"/><line x1="616.6" y1="403" x2="613" y2="415"/><line x1="616.6" y1="403" x2="616.6" y2="415"/><line x1="616.6" y1="403" x2="620" y2="415"/><line x1="616.6" y1="403" x2="624" y2="415"/><line x1="616.6" y1="403" x2="629" y2="415"/></g>
<path d="M 602 415.5 Q 604 417 604.9 419 M 632.4 415.5 Q 630.5 417 630.1 419" fill="none" stroke="#111" stroke-width="1.2"/>
<path d="M 604.9 418 L 604.9 459.4 M 630.1 418 L 630.1 459.4" stroke="#111" stroke-width="1.5"/>
<path d="M 604.5 421.5 L 630.5 419.7 M 605 422.9 L 630 421.3 M 604.5 425.2 L 630.5 423.4 M 605 426.6 L 630 425.0 M 604.5 428.9 L 630.5 427.1 M 605 430.3 L 630 428.7 M 604.5 432.6 L 630.5 430.8 M 605 434.0 L 630 432.4 M 604.5 436.3 L 630.5 434.5 M 605 437.7 L 630 436.1 M 604.5 440.0 L 630.5 438.2 M 605 441.4 L 630 439.8 M 604.5 443.7 L 630.5 441.9 M 605 445.1 L 630 443.5 M 604.5 447.4 L 630.5 445.6 M 605 448.8 L 630 447.2 M 604.5 451.1 L 630.5 449.3 M 605 452.5 L 630 450.9 M 604.5 454.8 L 630.5 453.0 M 605 456.2 L 630 454.6 M 604.5 458.5 L 630.5 456.7 M 605 459.9 L 630 458.3" stroke="#1a1a1a" stroke-width="1.15" fill="none"/>
<g fill="#111"><circle cx="604.6" cy="421.5" r="1.3"/><circle cx="630.4" cy="419.7" r="1.3"/><circle cx="604.6" cy="425.2" r="1.3"/><circle cx="630.4" cy="423.4" r="1.3"/><circle cx="604.6" cy="428.9" r="1.3"/><circle cx="630.4" cy="427.1" r="1.3"/><circle cx="604.6" cy="432.6" r="1.3"/><circle cx="630.4" cy="430.8" r="1.3"/><circle cx="604.6" cy="436.3" r="1.3"/><circle cx="630.4" cy="434.5" r="1.3"/><circle cx="604.6" cy="440.0" r="1.3"/><circle cx="630.4" cy="438.2" r="1.3"/><circle cx="604.6" cy="443.7" r="1.3"/><circle cx="630.4" cy="441.9" r="1.3"/><circle cx="604.6" cy="447.4" r="1.3"/><circle cx="630.4" cy="445.6" r="1.3"/><circle cx="604.6" cy="451.1" r="1.3"/><circle cx="630.4" cy="449.3" r="1.3"/><circle cx="604.6" cy="454.8" r="1.3"/><circle cx="630.4" cy="453.0" r="1.3"/><circle cx="604.6" cy="458.5" r="1.3"/><circle cx="630.4" cy="456.7" r="1.3"/></g>
<path d="M 605.8 459.4 L 605.8 492.2 L 616.6 501.6 L 628.9 492.2 L 628.9 459.4" fill="#fff" stroke="#111" stroke-width="1.4"/>
<path d="M 608.5 459.5 L 616 499 M 612.5 461 L 619.8 487.5 M 616.6 501 Q 619 490 627.5 491.5" fill="none" stroke="#222" stroke-width="0.9"/>
<line x1="616.6" y1="501.6" x2="616.6" y2="512" stroke="#777" stroke-width="0.9"/></g>
</svg></body></html>
